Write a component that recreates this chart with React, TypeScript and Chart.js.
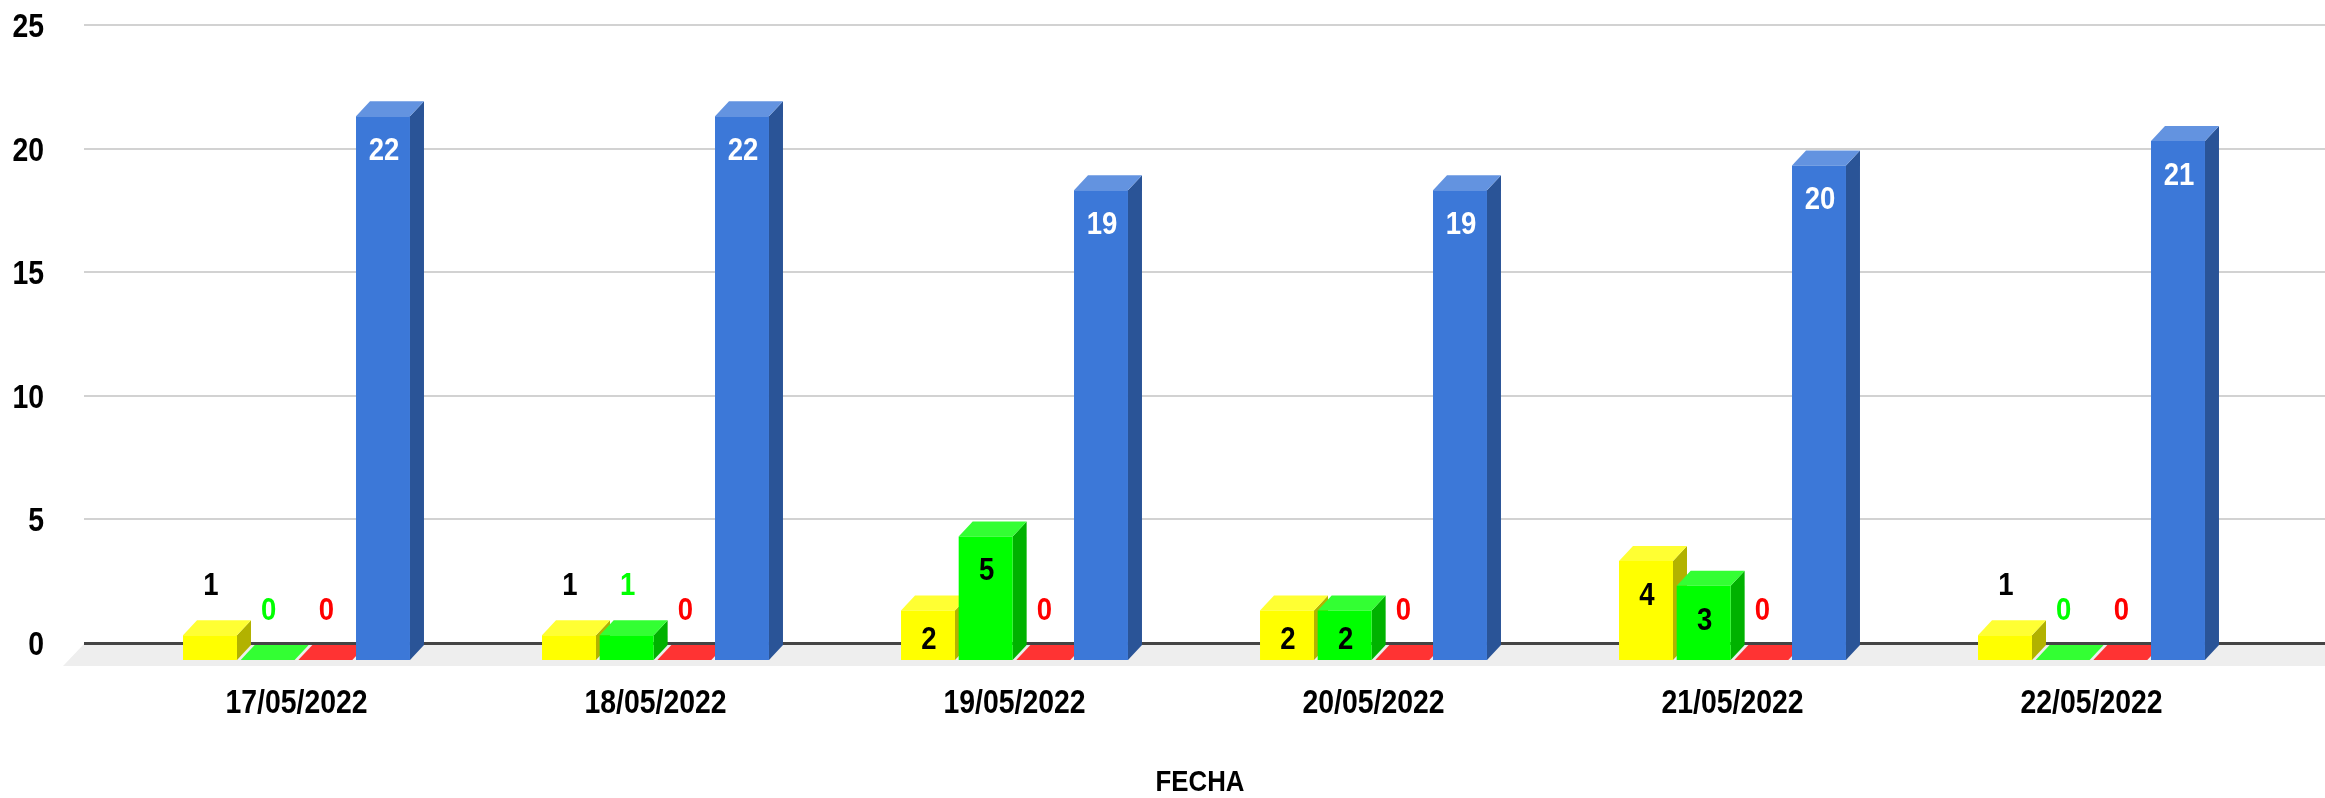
import React, { useEffect, useRef } from "react";
import { Chart, registerables } from "chart.js";

Chart.register(...registerables);

const categories = ["17/05/2022", "18/05/2022", "19/05/2022", "20/05/2022", "21/05/2022", "22/05/2022"];
const yellowValues = [1, 1, 2, 2, 4, 1];
const greenValues = [0, 1, 5, 2, 3, 0];
const redValues = [0, 0, 0, 0, 0, 0];
const blueValues = [22, 22, 19, 19, 20, 21];

const FONT = '"Liberation Sans", Arial, sans-serif';
const TEXT_SQUEEZE = 0.86;
const DROP = 17;
const DX = 14;
const DY = 15;

const faces: Record<string, { top: string; side: string; label: string; inside: string }> = {
  Amarillo: { top: "#ffff33", side: "#b2b200", label: "#000000", inside: "#000000" },
  Verde: { top: "#33ff33", side: "#00b200", label: "#00ff00", inside: "#000000" },
  Rojo: { top: "#ff3333", side: "#b20000", label: "#ff0000", inside: "#000000" },
  Azul: { top: "#6393e0", side: "#2a5497", label: "#3c78d8", inside: "#ffffff" },
};

const box3d = {
  id: "box3d",
  afterLayout(chart: any) {
    chart.scales.x.right += 12;
  },
  beforeDatasetsDraw(chart: any) {
    const { ctx, scales } = chart;
    const y = scales.y;
    const zero = y.getPixelForValue(0);
    ctx.save();
    ctx.fillStyle = "#eeeeee";
    ctx.beginPath();
    ctx.moveTo(84, zero + 1);
    ctx.lineTo(2325, zero + 1);
    ctx.lineTo(2325, zero + 23);
    ctx.lineTo(63, zero + 23);
    ctx.closePath();
    ctx.fill();
    y.ticks.forEach((t: any) => {
      const py = Math.round(y.getPixelForValue(t.value));
      ctx.fillStyle = t.value === 0 ? "#444444" : "#d2d2d2";
      ctx.fillRect(84, py - 1, 2241, t.value === 0 ? 3 : 2);
    });
    // depth faces of all boxes, left to right, beneath the front faces drawn by the library
    chart.data.datasets.forEach((ds: any, i: number) => {
      const f = faces[ds.label];
      chart.getDatasetMeta(i).data.forEach((el: any) => {
        const p = el.getProps(["x", "y", "base", "width"], true);
        const l = p.x - p.width / 2;
        const r = p.x + p.width / 2;
        const top = p.y + DROP;
        const bottom = p.base + DROP;
        ctx.fillStyle = f.side;
        ctx.beginPath();
        ctx.moveTo(r, top);
        ctx.lineTo(r + DX, top - DY);
        ctx.lineTo(r + DX, bottom - DY);
        ctx.lineTo(r, bottom);
        ctx.closePath();
        ctx.fill();
        ctx.fillStyle = f.top;
        ctx.beginPath();
        ctx.moveTo(l, top);
        ctx.lineTo(l + DX, top - DY);
        ctx.lineTo(r + DX, top - DY);
        ctx.lineTo(r, top);
        ctx.closePath();
        ctx.fill();
      });
    });
    ctx.restore();
  },
  beforeDatasetDraw(chart: any) {
    chart.ctx.save();
    chart.ctx.translate(0, DROP);
  },
  afterDatasetDraw(chart: any) {
    chart.ctx.restore();
  },
  afterDatasetsDraw(chart: any) {
    const { ctx } = chart;
    ctx.save();
    ctx.font = `bold 32px ${FONT}`;
    ctx.textAlign = "center";
    ctx.textBaseline = "middle";
    chart.data.datasets.forEach((ds: any, i: number) => {
      const f = faces[ds.label];
      chart.getDatasetMeta(i).data.forEach((el: any, j: number) => {
        const v = ds.data[j];
        const p = el.getProps(["x", "y", "base"], true);
        const inside = v >= 2;
        ctx.fillStyle = inside ? f.inside : f.label;
        const shift = inside ? Math.min(35, (p.base - p.y) / 2 + 5) : -49;
        ctx.fillText(String(v), p.x + 1, p.y + DROP + shift);
      });
    });
    ctx.restore();
  },
};

export default function App() {
  const ref = useRef<HTMLCanvasElement>(null);
  useEffect(() => {
    const canvas = ref.current!;
    const c = canvas.getContext("2d") as any;
    // the reference text is condensed horizontally: squeeze every string about its anchor
    const plainFillText = c.fillText.bind(c);
    c.fillText = (text: string, x: number, y: number) => {
      c.save();
      c.translate(x, y);
      c.scale(TEXT_SQUEEZE, 1);
      plainFillText(text, 0, 0);
      c.restore();
    };
    const bar = { barPercentage: 0.936, categoryPercentage: 0.6425, borderWidth: 0, clip: false as any };
    const chart = new Chart(canvas, {
      type: "bar",
      data: {
        labels: categories,
        datasets: [
          { label: "Amarillo", data: yellowValues, backgroundColor: "#ffff00", ...bar },
          { label: "Verde", data: greenValues, backgroundColor: "#00ff00", ...bar },
          { label: "Rojo", data: redValues, backgroundColor: "#ff0000", ...bar },
          { label: "Azul", data: blueValues, backgroundColor: "#3c78d8", ...bar },
        ],
      },
      options: {
        responsive: false,
        animation: false,
        devicePixelRatio: 1,
        layout: { padding: { top: 25, right: 54, bottom: 0, left: 0 } },
        plugins: { legend: { display: false }, tooltip: { enabled: false } },
        scales: {
          x: {
            grid: { display: false },
            border: { display: false },
            ticks: {
              color: "#000000",
              font: { family: FONT, size: 33, weight: "bold" },
              padding: 33,
              autoSkip: false,
              maxRotation: 0,
            },
            title: {
              display: true,
              text: "FECHA",
              color: "#000000",
              font: { family: FONT, size: 30, weight: "bold", lineHeight: 1 },
              padding: { top: -8, bottom: 0 },
            },
            afterFit: (s: any) => {
              s.height = 155;
            },
          },
          y: {
            min: 0,
            max: 25,
            grid: { display: false },
            border: { display: false },
            ticks: {
              stepSize: 5,
              color: "#000000",
              font: { family: FONT, size: 33, weight: "bold" },
              padding: 65,
              labelOffset: 3,
            },
            afterFit: (s: any) => {
              s.width = 117;
              s.paddingTop = 0;
              s.paddingBottom = 0;
            },
          },
        },
      },
      plugins: [box3d as any],
    });
    return () => {
      chart.destroy();
      delete c.fillText;
    };
  }, []);
  return (
    <div style={{ position: "fixed", left: 0, top: 0, width: 2325, height: 798, background: "#ffffff" }}>
      <canvas ref={ref} width={2325} height={798} style={{ display: "block" }} />
    </div>
  );
}
